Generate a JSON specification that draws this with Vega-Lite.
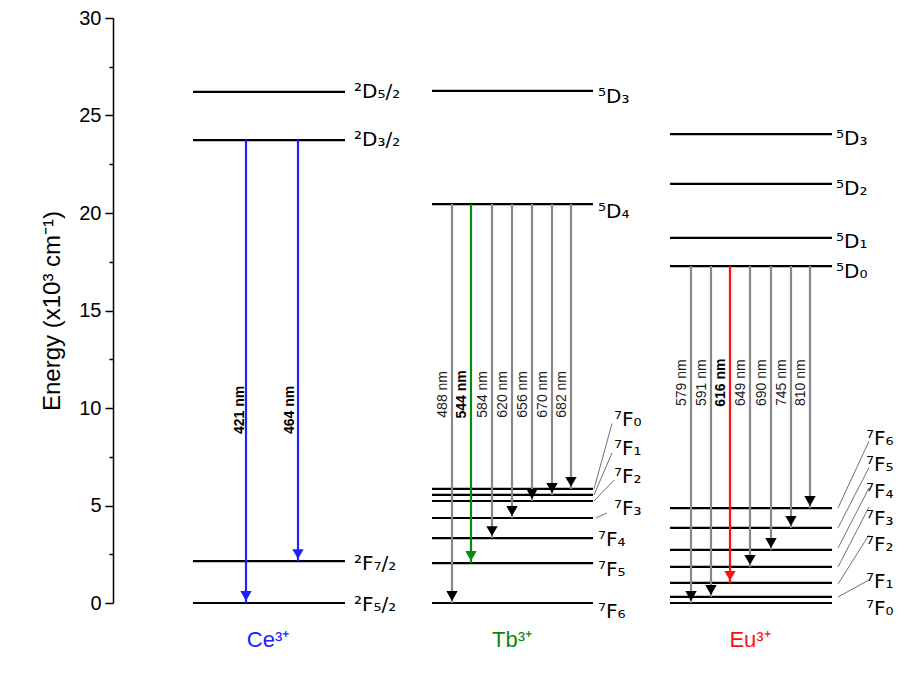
{
  "$schema": "https://vega.github.io/schema/vega-lite/v6.json",
  "autosize": {"type": "none"},
  "padding": {"left": 113, "top": 18, "right": 0, "bottom": 70},
  "width": 785,
  "height": 585,
  "config": {"view": {"stroke": null}, "font": "Liberation Sans"},
  "resolve": {"scale": {"color": "independent"}},
  "datasets": {
    "levels": [
      {"x1": 193, "x2": 345, "e": 26.21},
      {"x1": 193, "x2": 345, "e": 23.74},
      {"x1": 193, "x2": 345, "e": 2.15},
      {"x1": 193, "x2": 345, "e": 0},
      {"x1": 432, "x2": 593, "e": 26.26},
      {"x1": 432, "x2": 593, "e": 20.46},
      {"x1": 432, "x2": 593, "e": 5.85},
      {"x1": 432, "x2": 593, "e": 5.54},
      {"x1": 432, "x2": 593, "e": 5.23},
      {"x1": 432, "x2": 593, "e": 4.36},
      {"x1": 432, "x2": 593, "e": 3.33},
      {"x1": 432, "x2": 593, "e": 2.05},
      {"x1": 432, "x2": 593, "e": 0},
      {"x1": 670, "x2": 832, "e": 24.05},
      {"x1": 670, "x2": 832, "e": 21.49},
      {"x1": 670, "x2": 832, "e": 18.72},
      {"x1": 670, "x2": 832, "e": 17.28},
      {"x1": 670, "x2": 832, "e": 4.87},
      {"x1": 670, "x2": 832, "e": 3.85},
      {"x1": 670, "x2": 832, "e": 2.72},
      {"x1": 670, "x2": 832, "e": 1.85},
      {"x1": 670, "x2": 832, "e": 1.03},
      {"x1": 670, "x2": 832, "e": 0.31},
      {"x1": 670, "x2": 832, "e": 0}
    ],
    "arrows": [
      {"x": 246, "e1": 23.74, "e2": 0, "kind": "Ce"},
      {"x": 298, "e1": 23.74, "e2": 2.15, "kind": "Ce"},
      {"x": 452, "e1": 20.46, "e2": 0, "kind": "thin"},
      {"x": 471, "e1": 20.46, "e2": 2.05, "kind": "Tb"},
      {"x": 492, "e1": 20.46, "e2": 3.33, "kind": "thin"},
      {"x": 512, "e1": 20.46, "e2": 4.36, "kind": "thin"},
      {"x": 532, "e1": 20.46, "e2": 5.23, "kind": "thin"},
      {"x": 552, "e1": 20.46, "e2": 5.54, "kind": "thin"},
      {"x": 571, "e1": 20.46, "e2": 5.85, "kind": "thin"},
      {"x": 691, "e1": 17.28, "e2": 0, "kind": "thin"},
      {"x": 711, "e1": 17.28, "e2": 0.31, "kind": "thin"},
      {"x": 730, "e1": 17.28, "e2": 1.03, "kind": "Eu"},
      {"x": 750, "e1": 17.28, "e2": 1.85, "kind": "thin"},
      {"x": 771, "e1": 17.28, "e2": 2.72, "kind": "thin"},
      {"x": 791, "e1": 17.28, "e2": 3.85, "kind": "thin"},
      {"x": 810, "e1": 17.28, "e2": 4.87, "kind": "thin"}
    ],
    "wl": [
      {"x": 240, "e": 9.9, "t": "421 nm", "b": true},
      {"x": 290, "e": 9.9, "t": "464 nm", "b": true},
      {"x": 443, "e": 10.7, "t": "488 nm", "b": false},
      {"x": 462, "e": 10.7, "t": "544 nm", "b": true},
      {"x": 483, "e": 10.7, "t": "584 nm", "b": false},
      {"x": 503, "e": 10.7, "t": "620 nm", "b": false},
      {"x": 523, "e": 10.7, "t": "656 nm", "b": false},
      {"x": 543, "e": 10.7, "t": "670 nm", "b": false},
      {"x": 562, "e": 10.7, "t": "682 nm", "b": false},
      {"x": 682, "e": 11.3, "t": "579 nm", "b": false},
      {"x": 702, "e": 11.3, "t": "591 nm", "b": false},
      {"x": 721, "e": 11.3, "t": "616 nm", "b": true},
      {"x": 741, "e": 11.3, "t": "649 nm", "b": false},
      {"x": 762, "e": 11.3, "t": "690 nm", "b": false},
      {"x": 782, "e": 11.3, "t": "745 nm", "b": false},
      {"x": 801, "e": 11.3, "t": "810 nm", "b": false}
    ],
    "terms": [
      {"x": 354, "e": 26.21, "t": "²D₅/₂"},
      {"x": 354, "e": 23.74, "t": "²D₃/₂"},
      {"x": 354, "e": 2.0, "t": "²F₇/₂"},
      {"x": 354, "e": -0.1, "t": "²F₅/₂"},
      {"x": 598, "e": 25.95, "t": "⁵D₃"},
      {"x": 598, "e": 20.05, "t": "⁵D₄"},
      {"x": 614, "e": 9.4, "t": "⁷F₀"},
      {"x": 614, "e": 7.9, "t": "⁷F₁"},
      {"x": 614, "e": 6.46, "t": "⁷F₂"},
      {"x": 614, "e": 4.82, "t": "⁷F₃"},
      {"x": 598, "e": 3.23, "t": "⁷F₄"},
      {"x": 598, "e": 1.69, "t": "⁷F₅"},
      {"x": 598, "e": -0.46, "t": "⁷F₆"},
      {"x": 836, "e": 23.8, "t": "⁵D₃"},
      {"x": 836, "e": 21.23, "t": "⁵D₂"},
      {"x": 836, "e": 18.52, "t": "⁵D₁"},
      {"x": 836, "e": 16.98, "t": "⁵D₀"},
      {"x": 866, "e": 8.4, "t": "⁷F₆"},
      {"x": 866, "e": 7.08, "t": "⁷F₅"},
      {"x": 866, "e": 5.7, "t": "⁷F₄"},
      {"x": 866, "e": 4.31, "t": "⁷F₃"},
      {"x": 866, "e": 2.98, "t": "⁷F₂"},
      {"x": 866, "e": 1.08, "t": "⁷F₁"},
      {"x": 866, "e": -0.3, "t": "⁷F₀"}
    ],
    "leaders": [
      {"x1": 594, "e1": 5.85, "x2": 612, "e2": 9.2},
      {"x1": 594, "e1": 5.54, "x2": 612, "e2": 7.7},
      {"x1": 594, "e1": 5.23, "x2": 614, "e2": 6.3},
      {"x1": 596, "e1": 4.36, "x2": 607, "e2": 4.62},
      {"x1": 838, "e1": 4.87, "x2": 869, "e2": 8.3},
      {"x1": 838, "e1": 3.85, "x2": 869, "e2": 6.95},
      {"x1": 838, "e1": 2.82, "x2": 869, "e2": 5.9},
      {"x1": 838, "e1": 1.85, "x2": 869, "e2": 4.92},
      {"x1": 838, "e1": 0.97, "x2": 869, "e2": 3.49},
      {"x1": 838, "e1": 0.31, "x2": 869, "e2": 1.18}
    ],
    "ions": [
      {"x": 268, "e": -1.9, "ion": "Ce³⁺"},
      {"x": 512, "e": -1.9, "ion": "Tb³⁺"},
      {"x": 750, "e": -1.9, "ion": "Eu³⁺"}
    ]
  },
  "layer": [
    {
      "data": {"name": "levels"},
      "mark": {"type": "rule", "strokeWidth": 2.2, "color": "black"},
      "encoding": {
        "x": {"field": "x1", "type": "quantitative", "scale": {"domain": [113, 898], "nice": false, "padding": 0, "zero": false}, "axis": null},
        "x2": {"field": "x2"},
        "y": {"field": "e", "type": "quantitative", "scale": {"domain": [0, 30], "nice": false, "padding": 0},
          "axis": {
            "title": "Energy (x10³ cm⁻¹)", "titleFontSize": 24, "titleFontWeight": "normal",
            "titleColor": "black", "titlePadding": 14,
            "values": [0, 2.5, 5, 7.5, 10, 12.5, 15, 17.5, 20, 22.5, 25, 27.5, 30],
            "labelExpr": "datum.value % 5 === 0 ? datum.label : ''",
            "labelFontSize": 20, "labelColor": "black", "labelPadding": 4,
            "tickSize": {"condition": {"test": "datum.value % 5 === 0", "value": 8}, "value": 4},
            "tickColor": "black", "tickWidth": 1.5, "domainColor": "black", "domainWidth": 1.5, "grid": false
          }}
      }
    },
    {
      "data": {"name": "leaders"},
      "mark": {"type": "rule", "strokeWidth": 0.7, "color": "#333"},
      "encoding": {
        "x": {"field": "x1", "type": "quantitative"},
        "x2": {"field": "x2"},
        "y": {"field": "e1", "type": "quantitative"},
        "y2": {"field": "e2"}
      }
    },
    {
      "data": {"name": "arrows"},
      "mark": {"type": "rule"},
      "encoding": {
        "x": {"field": "x", "type": "quantitative"},
        "y": {"field": "e1", "type": "quantitative"},
        "y2": {"field": "e2"},
        "stroke": {"field": "kind", "type": "nominal", "legend": null,
          "scale": {"domain": ["Ce", "Tb", "Eu", "thin"], "range": ["#2020ff", "#0a8a0a", "#ff1010", "#888888"]}},
        "strokeWidth": {"field": "kind", "type": "nominal", "legend": null,
          "scale": {"domain": ["Ce", "Tb", "Eu", "thin"], "range": [2.2, 2.2, 2.2, 0.7]}}
      }
    },
    {
      "data": {"name": "arrows"},
      "mark": {"type": "point", "shape": "triangle-down", "filled": true, "opacity": 1, "yOffset": -7},
      "encoding": {
        "x": {"field": "x", "type": "quantitative"},
        "y": {"field": "e2", "type": "quantitative"},
        "fill": {"field": "kind", "type": "nominal", "legend": null,
          "scale": {"domain": ["Ce", "Tb", "Eu", "thin"], "range": ["#2020ff", "#0a8a0a", "#ff1010", "#000000"]}},
        "size": {"field": "kind", "type": "nominal", "legend": null,
          "scale": {"domain": ["Ce", "Tb", "Eu", "thin"], "range": [130, 130, 130, 60]}}
      }
    },
    {
      "data": {"name": "wl"},
      "transform": [{"filter": "!datum.b"}],
      "mark": {"type": "text", "angle": 270, "fontSize": 14, "align": "center", "baseline": "middle", "color": "#222"},
      "encoding": {
        "x": {"field": "x", "type": "quantitative"},
        "y": {"field": "e", "type": "quantitative"},
        "text": {"field": "t"}
      }
    },
    {
      "data": {"name": "wl"},
      "transform": [{"filter": "datum.b"}],
      "mark": {"type": "text", "angle": 270, "fontSize": 14, "fontWeight": "bold", "align": "center", "baseline": "middle", "color": "black"},
      "encoding": {
        "x": {"field": "x", "type": "quantitative"},
        "y": {"field": "e", "type": "quantitative"},
        "text": {"field": "t"}
      }
    },
    {
      "data": {"name": "terms"},
      "mark": {"type": "text", "fontSize": 20, "align": "left", "baseline": "middle", "font": "DejaVu Sans", "color": "black"},
      "encoding": {
        "x": {"field": "x", "type": "quantitative"},
        "y": {"field": "e", "type": "quantitative"},
        "text": {"field": "t"}
      }
    },
    {
      "data": {"name": "ions"},
      "mark": {"type": "text", "fontSize": 22, "align": "center", "baseline": "middle"},
      "encoding": {
        "x": {"field": "x", "type": "quantitative"},
        "y": {"field": "e", "type": "quantitative"},
        "text": {"field": "ion"},
        "color": {"field": "ion", "type": "nominal", "legend": null,
          "scale": {"domain": ["Ce³⁺", "Tb³⁺", "Eu³⁺"], "range": ["#2020ff", "#0a8a0a", "#ff1010"]}}
      }
    }
  ]
}
